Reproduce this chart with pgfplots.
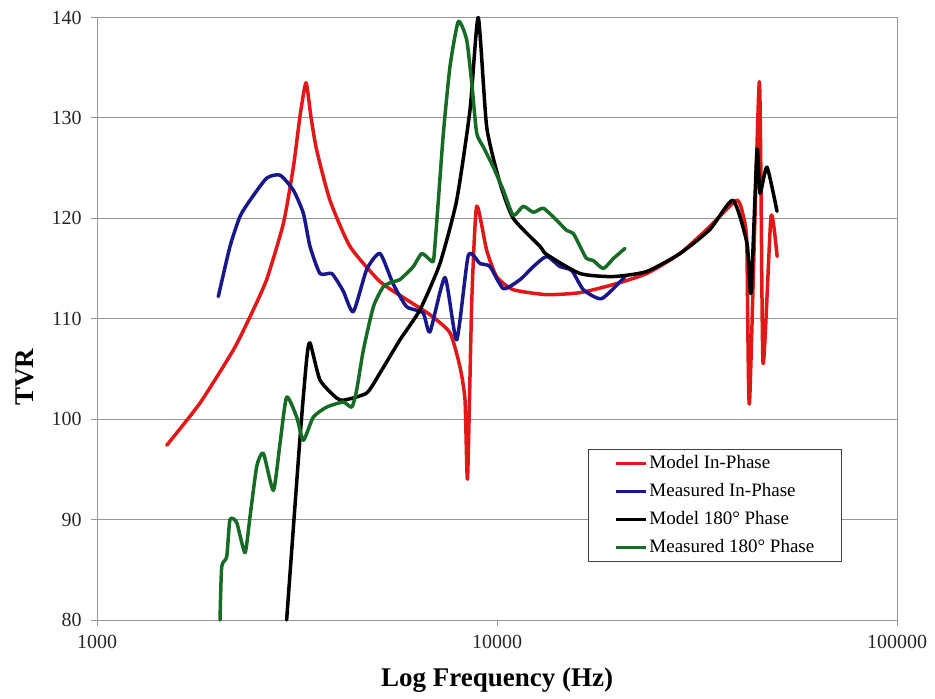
\documentclass[border=0pt]{standalone}
\usepackage{pgfplots}
\pgfplotsset{compat=1.18}
\usepackage{fontspec}
\setmainfont{Liberation Serif}

\definecolor{modelred}{RGB}{226,24,24}
\definecolor{measblue}{RGB}{24,24,140}
\definecolor{measgreen}{RGB}{22,108,36}
\definecolor{gridgray}{RGB}{150,150,150}

\begin{document}
\begin{tikzpicture}
\begin{axis}[
  scale only axis,
  width=800bp, height=602.5bp,
  xmode=log, log basis x=10,
  xmin=1000, xmax=100000,
  ymin=80, ymax=140,
  xtick={1000,10000,100000},
  xticklabels={1000,10000,100000},
  ytick={80,90,100,110,120,130,140},
  yticklabels={80,90,100,110,120,130,140},
  xminorticks=false, yminorticks=false,
  ymajorgrids=true, xmajorgrids=false,
  major grid style={draw=gridgray, line width=1bp},
  axis line style={draw=gridgray, line width=1bp},
  tick style={draw=gridgray, line width=1bp},
  tick align=outside, major tick length=6bp,
  axis x line*=bottom, axis y line*=left,
  ticklabel style={font=\fontsize{20bp}{24bp}\selectfont, text=black!85},
  xticklabel style={yshift=-6bp},
  yticklabel style={xshift=-6bp},
  xlabel={\textbf{Log Frequency (Hz)}},
  ylabel={\textbf{TVR}},
  label style={font=\fontsize{27bp}{30bp}\selectfont},
  xlabel style={at={(axis description cs:0.5,-0.1)}, anchor=center},
  ylabel style={at={(axis description cs:-0.09,0.403)}, anchor=center, rotate=0},
  clip=false,
  legend cell align=left,
  legend style={at={(0.6138,0.2838)}, anchor=north west,
    draw=black!75, line width=0.8bp, fill=white,
    font=\fontsize{19bp}{22bp}\selectfont,
    inner xsep=26bp, inner ysep=5bp,
    nodes={inner xsep=1.5bp, inner ysep=0bp, text height=14bp, text depth=4bp},
    row sep=10bp, column sep=0bp},
  legend image code/.code={\draw[#1, line width=3.5bp, line cap=butt] (0bp,0bp) -- (30bp,0bp);},
  every axis plot/.append style={line width=3.5bp, line join=round, line cap=round, smooth, tension=0.35},
]
% box edges at the top and on the right
\draw[gridgray, line width=1bp] (rel axis cs:1,0) -- (rel axis cs:1,1) -- (rel axis cs:0,1);

% Model In-Phase
\addplot[modelred] coordinates {
(1494,97.4) (1809,101.6) (2193,106.9) (2413,110.2) (2655,113.9) (2924,119.5)
(3097,125.1) (3218,130.2) (3331,133.5) (3430,130.0) (3541,126.8) (3823,121.8)
(4290,117.2) (5099,113.7) (6000,111.8) (6800,110.4) (7629,108.6) (8080,105.2)
(8318,101.9) (8440,94.1) (8650,111.9) (8895,121.2) (9424,116.8) (9980,114.2)
(10965,112.9) (13310,112.4) (16130,112.6) (19500,113.4) (23660,114.5)
(28680,116.5) (34080,119.2) (39720,121.8) (41290,120.2) (42120,117.5)
(42780,101.6) (45270,133.6) (46240,105.6) (48420,120.2) (50150,116.2)
};
\addlegendentry{Model In-Phase}

% Measured In-Phase
\addplot[measblue] coordinates {
(2010,112.2) (2150,117.2) (2278,120.2) (2413,121.8) (2655,124.0) (2868,124.3)
(3097,122.8) (3280,120.5) (3408,117.2) (3610,114.5) (3864,114.5) (4121,112.8)
(4373,110.7) (4722,114.9) (5099,116.5) (5495,113.5) (5945,111.2) (6531,110.6)
(6800,108.7) (7413,114.1) (7930,107.9) (8476,116.3) (9068,115.5) (9605,115.2)
(10370,113.0) (11420,113.9) (12330,115.2) (13310,116.2) (14370,115.2)
(15380,114.8) (16440,112.9) (18270,112.0) (20890,114.2)
};
\addlegendentry{Measured In-Phase}

% Model 180 degree phase
\addplot[black] coordinates {
(2979,80.0) (3218,98.2) (3342,105.9) (3408,107.6) (3610,103.9) (3974,102.1)
(4147,101.9) (4722,102.6) (5099,104.6) (5720,107.9) (6420,110.9) (7200,115.5)
(7930,121.8) (8560,130.8) (8975,140.0) (9424,129.1) (10174,123.5) (10980,120.0)
(12810,117.2) (13310,116.4) (16130,114.5) (19500,114.2) (23660,114.7)
(28680,116.5) (34080,118.9) (38900,121.8) (42170,117.5) (43150,112.6)
(44670,126.8) (45450,122.5) (47300,125.1) (50120,120.7)
};
\addlegendentry{Model 180° Phase}

% Measured 180 degree phase
\addplot[measgreen] coordinates {
(2030,80.0) (2050,85.3) (2110,86.3) (2150,90.0) (2235,89.7) (2344,86.7)
(2413,90.3) (2508,95.3) (2606,96.6) (2760,92.9) (2868,97.6) (2979,102.2)
(3157,100.2) (3280,97.9) (3473,100.2) (3752,101.2) (4128,101.7) (4335,101.2)
(4458,102.9) (4634,106.9) (4909,111.2) (5200,113.2) (5508,113.7) (5720,113.9)
(6178,115.2) (6486,116.5) (6874,115.7) (6950,116.0) (7080,120.0) (7345,128.5)
(7629,135.1) (8002,139.6) (8395,137.8) (8650,133.4) (8895,128.5) (9246,127.1)
(9790,125.1) (10370,122.8) (10980,120.3) (11630,121.2) (12330,120.6)
(13060,121.0) (14100,119.8) (14930,118.8) (15510,118.5) (16130,117.2)
(16740,116.0) (17400,115.8) (18440,115.0) (19540,116.0) (20890,117.0)
};
\addlegendentry{Measured 180° Phase}
\end{axis}
% page area around the axis
\path (-97bp,-79bp) rectangle (838bp,620bp);
\end{tikzpicture}
\end{document}
